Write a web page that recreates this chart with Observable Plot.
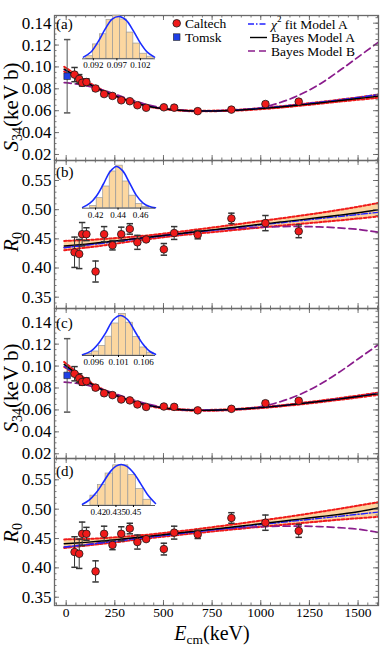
<!DOCTYPE html>
<html><head><meta charset="utf-8">
<script src="https://cdn.jsdelivr.net/npm/d3@7"></script>
<script src="https://cdn.jsdelivr.net/npm/@observablehq/plot@0.6"></script>
<style>
body{margin:0;background:#fff;}
#root{position:relative;width:390px;height:645px;overflow:hidden;font-family:"Liberation Serif","DejaVu Serif",serif;color:#000;}
#root svg{position:absolute;}
#root svg text{font-family:"Liberation Serif","DejaVu Serif",serif;}
</style></head><body><div id="root"></div>
<script>
// ---------- data ----------
const caltechE = [43, 67, 82, 104, 151, 195, 238, 283, 327, 366, 411, 502, 555, 676, 849, 1024, 1195];
const caltechS34 = [0.0930, 0.0890, 0.0855, 0.0862, 0.0803, 0.0752, 0.0735, 0.0695, 0.0687, 0.0650, 0.0627, 0.0631, 0.0628, 0.0596, 0.0610, 0.0661, 0.0683];
const caltechS34err = [0.0065, 0.0040, 0.0030, 0.0030, 0.0020, 0.0020, 0.0020, 0.0015, 0.0015, 0.0015, 0.0015, 0.0015, 0.0015, 0.0015, 0.0015, 0.0018, 0.0018];
const caltechR0 = [0.427, 0.424, 0.458, 0.458, 0.394, 0.458, 0.439, 0.458, 0.467, 0.444, 0.449, 0.432, 0.460, 0.457, 0.485, 0.477, 0.463];
const caltechR0err = [0.026, 0.025, 0.020, 0.011, 0.018, 0.013, 0.008, 0.012, 0.009, 0.012, 0.003, 0.010, 0.011, 0.007, 0.009, 0.013, 0.011];
const tomskE = [5];
const tomskS34 = [0.0915];
const tomskErr = [0.0335];

// fitted curves, S34 panels
const gridS = [-10, 50, 100, 150, 200, 300, 400, 500, 600, 700, 800, 900, 1000, 1100, 1200, 1300, 1400, 1500, 1605];
const aBayesA = [0.0980, 0.0918, 0.0865, 0.0815, 0.0772, 0.0703, 0.0650, 0.0618, 0.0602, 0.0597, 0.0600, 0.0607, 0.0619, 0.0634, 0.0652, 0.0671, 0.0691, 0.0711, 0.0733];
const aBandHi = [0.1002, 0.0932, 0.0875, 0.0823, 0.0778, 0.0707, 0.0654, 0.0621, 0.0605, 0.0600, 0.0603, 0.0611, 0.0624, 0.0640, 0.0659, 0.0679, 0.0700, 0.0722, 0.0748];
const aBandLo = [0.0958, 0.0904, 0.0855, 0.0807, 0.0766, 0.0699, 0.0646, 0.0615, 0.0599, 0.0594, 0.0597, 0.0603, 0.0614, 0.0628, 0.0645, 0.0663, 0.0682, 0.0700, 0.0718];
const aChi2A = [0.0975, 0.0916, 0.0864, 0.0815, 0.0773, 0.0704, 0.0651, 0.0619, 0.0603, 0.0598, 0.0602, 0.0610, 0.0623, 0.0639, 0.0657, 0.0677, 0.0698, 0.0721, 0.0748];
const aBayesB = [0.0856, 0.0845, 0.0830, 0.0808, 0.0782, 0.0720, 0.0664, 0.0626, 0.0603, 0.0596, 0.0598, 0.0607, 0.0627, 0.0675, 0.0745, 0.0840, 0.0960, 0.1090, 0.1227];

const cBayesA = [0.1015, 0.0935, 0.0872, 0.0818, 0.0773, 0.0702, 0.0650, 0.0617, 0.0601, 0.0596, 0.0599, 0.0608, 0.0621, 0.0637, 0.0656, 0.0677, 0.0699, 0.0722, 0.0748];
const cBandHi = [0.1038, 0.0950, 0.0882, 0.0825, 0.0778, 0.0706, 0.0654, 0.0621, 0.0605, 0.0600, 0.0603, 0.0612, 0.0626, 0.0642, 0.0662, 0.0684, 0.0707, 0.0731, 0.0758];
const cBandLo = [0.0992, 0.0920, 0.0862, 0.0811, 0.0768, 0.0698, 0.0646, 0.0613, 0.0597, 0.0592, 0.0595, 0.0604, 0.0616, 0.0632, 0.0650, 0.0670, 0.0691, 0.0713, 0.0738];
const cChi2A = [0.0998, 0.0928, 0.0868, 0.0816, 0.0772, 0.0703, 0.0651, 0.0618, 0.0602, 0.0597, 0.0600, 0.0609, 0.0622, 0.0638, 0.0657, 0.0678, 0.0700, 0.0724, 0.0752];
const cBayesB = [0.0854, 0.0843, 0.0828, 0.0806, 0.0780, 0.0718, 0.0663, 0.0625, 0.0603, 0.0596, 0.0598, 0.0607, 0.0630, 0.0675, 0.0740, 0.0830, 0.0940, 0.1065, 0.1196];

// fitted curves, R0 panels
const gridR = [-10, 100, 200, 300, 400, 500, 600, 700, 800, 900, 1000, 1100, 1200, 1300, 1400, 1500, 1605];
const bBayesA = [0.4378, 0.4410, 0.4445, 0.4482, 0.4520, 0.4558, 0.4597, 0.4635, 0.4672, 0.4711, 0.4750, 0.4788, 0.4826, 0.4865, 0.4905, 0.4948, 0.5000];
const bBandHi = [0.4465, 0.4478, 0.4500, 0.4525, 0.4553, 0.4590, 0.4630, 0.4672, 0.4715, 0.4760, 0.4805, 0.4850, 0.4895, 0.4943, 0.4995, 0.5050, 0.5115];
const bBandLo = [0.4305, 0.4348, 0.4390, 0.4440, 0.4487, 0.4527, 0.4565, 0.4598, 0.4630, 0.4662, 0.4695, 0.4725, 0.4755, 0.4785, 0.4815, 0.4848, 0.4885];
const bChi2A = [0.4350, 0.4390, 0.4430, 0.4470, 0.4510, 0.4550, 0.4590, 0.4628, 0.4665, 0.4703, 0.4740, 0.4775, 0.4810, 0.4846, 0.4882, 0.4918, 0.4955];
const bBayesB = [0.4350, 0.4395, 0.4440, 0.4483, 0.4525, 0.4563, 0.4600, 0.4632, 0.4660, 0.4683, 0.4700, 0.4710, 0.4712, 0.4705, 0.4688, 0.4662, 0.4612];

const dBayesA = [0.4410, 0.4435, 0.4463, 0.4495, 0.4530, 0.4565, 0.4602, 0.4638, 0.4675, 0.4713, 0.4752, 0.4790, 0.4830, 0.4870, 0.4910, 0.4955, 0.5020];
const dBandHi = [0.4485, 0.4492, 0.4508, 0.4533, 0.4560, 0.4595, 0.4632, 0.4672, 0.4715, 0.4758, 0.4805, 0.4852, 0.4900, 0.4952, 0.5005, 0.5060, 0.5120];
const dBandLo = [0.4340, 0.4378, 0.4415, 0.4455, 0.4495, 0.4532, 0.4568, 0.4602, 0.4636, 0.4668, 0.4700, 0.4730, 0.4760, 0.4790, 0.4820, 0.4845, 0.4870];
const dChi2A = [0.4355, 0.4393, 0.4432, 0.4471, 0.4510, 0.4549, 0.4588, 0.4626, 0.4664, 0.4701, 0.4738, 0.4773, 0.4808, 0.4843, 0.4878, 0.4913, 0.4950];
const dBayesB = [0.4352, 0.4396, 0.4440, 0.4483, 0.4525, 0.4563, 0.4600, 0.4632, 0.4660, 0.4683, 0.4700, 0.4710, 0.4712, 0.4703, 0.4686, 0.4658, 0.4605];

// inset histograms (posterior of S34(0) / R0(0))
const histA_edges = [0.0905, 0.0919, 0.0934, 0.0948, 0.0962, 0.0977, 0.0991, 0.1005, 0.1019, 0.1034, 0.1048];
const histA_counts = [0.06, 0.34, 0.58, 0.92, 1.02, 0.93, 0.62, 0.36, 0.12, 0.05];
const gaussA_x = [0.0899, 0.0915, 0.0930, 0.0945, 0.0960, 0.0975, 0.0990, 0.1005, 0.1020, 0.1035, 0.1050];
const gaussA_y = [0.04, 0.16, 0.40, 0.70, 0.94, 1.00, 0.91, 0.66, 0.37, 0.15, 0.04];
const insetA_ticks = [0.092, 0.097, 0.102];

const histB_edges = [0.4152, 0.4210, 0.4268, 0.4326, 0.4384, 0.4442, 0.4500, 0.4558, 0.4616, 0.4674];
const histB_counts = [0.05, 0.24, 0.52, 0.88, 1.02, 0.64, 0.30, 0.10, 0.03];
const gaussB_x = [0.4085, 0.4150, 0.4210, 0.4270, 0.4330, 0.4385, 0.4440, 0.4500, 0.4560, 0.4620, 0.4680, 0.4733];
const gaussB_y = [0.02, 0.12, 0.30, 0.58, 0.88, 1.00, 0.90, 0.62, 0.32, 0.13, 0.04, 0.01];
const insetB_ticks = [0.42, 0.44, 0.46];

const histC_edges = [0.0944, 0.0957, 0.0971, 0.0984, 0.0997, 0.1011, 0.1025, 0.1039, 0.1053, 0.1067, 0.1080];
const histC_counts = [0.04, 0.10, 0.24, 0.47, 0.80, 1.04, 0.82, 0.46, 0.20, 0.07];
const gaussC_x = [0.0938, 0.0955, 0.0970, 0.0985, 0.1000, 0.1014, 0.1028, 0.1043, 0.1058, 0.1073, 0.1084];
const gaussC_y = [0.02, 0.11, 0.30, 0.58, 0.90, 1.00, 0.90, 0.60, 0.30, 0.10, 0.03];
const insetC_ticks = [0.096, 0.101, 0.106];

const histD_edges = [0.4131, 0.4196, 0.4261, 0.4326, 0.4391, 0.4456, 0.4521, 0.4586, 0.4651];
const histD_counts = [0.24, 0.50, 0.78, 0.98, 0.98, 0.74, 0.40, 0.14];
const gaussD_x = [0.4063, 0.4120, 0.4180, 0.4240, 0.4300, 0.4350, 0.4394, 0.4440, 0.4500, 0.4560, 0.4620, 0.4689];
const gaussD_y = [0.03, 0.13, 0.31, 0.56, 0.82, 0.96, 1.00, 0.96, 0.80, 0.54, 0.27, 0.05];
const insetD_ticks = [0.42, 0.435, 0.45];

const xTickLabels = [0, 250, 500, 750, 1000, 1250, 1500];
const sTickLabels = [0.02, 0.04, 0.06, 0.08, 0.10, 0.12, 0.14];
const rTickLabels = [0.35, 0.40, 0.45, 0.50, 0.55];

// ---------- drawing ----------
const root = document.getElementById("root");
const FONT = '"Liberation Serif","DejaVu Serif",serif';
const ML = 54, MR = 12, W = 390, PW = W - ML - MR;
const XDOM = [-60, 1605];
const C = {red: "#f01a1a", band: "#fbcf95", blue: "#2222ff", purple: "#8a1c8c", sq: "#1f3fe6"};

const capSymbol = {draw(ctx, size) { const r = Math.sqrt(size / Math.PI); ctx.moveTo(-r, 0); ctx.lineTo(r, 0); }};

function table(grid, hi, lo, bayesA, chi, bayesB) {
  return grid.map((E, i) => ({E, hi: hi[i], lo: lo[i], a: bayesA[i], chi: chi[i], b: bayesB[i]}));
}
const ptsS = caltechE.map((E, i) => ({E, v: caltechS34[i], e: caltechS34err[i]}));
const ptsR = caltechE.map((E, i) => ({E, v: caltechR0[i], e: caltechR0err[i]}));
const tomsk = tomskE.map((E, i) => ({E, v: tomskS34[i], e: tomskErr[i]}));

function makePanel(p) {
  const ph = p.height - p.mt - p.mb;
  const cur = "catmull-rom";
  const marks = [
    Plot.areaY(p.band, {x: "E", y1: "lo", y2: "hi", curve: cur, fill: C.band, fillOpacity: 0.9, clip: true}),
    Plot.line(p.band, {x: "E", y: "hi", curve: cur, stroke: C.red, strokeWidth: 2, strokeDasharray: "2.5,2", clip: true}),
    Plot.line(p.band, {x: "E", y: "lo", curve: cur, stroke: C.red, strokeWidth: 2, strokeDasharray: "2.5,2", clip: true}),
    Plot.line(p.band, {x: "E", y: "b", curve: cur, stroke: C.purple, strokeWidth: 1.7, strokeDasharray: "7,4", clip: true}),
    Plot.line(p.band, {x: "E", y: "chi", curve: cur, stroke: C.blue, strokeWidth: 1.4, strokeDasharray: "6,2,1.5,2", clip: true}),
    Plot.line(p.band, {x: "E", y: "a", curve: cur, stroke: "#000", strokeWidth: 1.4, clip: true})
  ];
  if (p.tomsk) {
    marks.push(Plot.ruleX(p.tomsk, {x: "E", y1: d => d.v - d.e, y2: d => d.v + d.e, stroke: "#555", strokeWidth: 1}));
    marks.push(Plot.dot(p.tomsk, {x: "E", y: d => d.v - d.e, symbol: capSymbol, r: 3.2, fill: "none", stroke: "#555"}));
    marks.push(Plot.dot(p.tomsk, {x: "E", y: d => d.v + d.e, symbol: capSymbol, r: 3.2, fill: "none", stroke: "#555"}));
    marks.push(Plot.dot(p.tomsk, {x: "E", y: "v", symbol: "square", r: 3.7, fill: C.sq, stroke: "#222", strokeWidth: 0.6}));
  }
  marks.push(Plot.ruleX(p.pts, {x: "E", y1: d => d.v - d.e, y2: d => d.v + d.e, stroke: "#333", strokeWidth: 1}));
  marks.push(Plot.dot(p.pts, {x: "E", y: d => d.v - d.e, symbol: capSymbol, r: 3.2, fill: "none", stroke: "#333"}));
  marks.push(Plot.dot(p.pts, {x: "E", y: d => d.v + d.e, symbol: capSymbol, r: 3.2, fill: "none", stroke: "#333"}));
  marks.push(Plot.dot(p.pts, {x: "E", y: "v", r: 3.8, fill: C.red, stroke: "#1a1a1a", strokeWidth: 0.8}));
  // inward frame ticks
  const yMinor = d3.range(p.minor[0], p.minor[1] + 1e-9, p.minor[2]).filter(v => v > p.ydom[0] && v < p.ydom[1]);
  const xMinor = d3.range(-50, 1601, 50);
  const tk = {stroke: "#555", strokeWidth: 0.8};
  marks.push(Plot.tickY(yMinor, {y: d => d, insetRight: PW - 2.5, ...tk}));
  marks.push(Plot.tickY(yMinor, {y: d => d, insetLeft: PW - 2.5, ...tk}));
  marks.push(Plot.tickY(p.major, {y: d => d, insetRight: PW - 5, ...tk}));
  marks.push(Plot.tickY(p.major, {y: d => d, insetLeft: PW - 5, ...tk}));
  marks.push(Plot.tickX(xMinor, {x: d => d, insetTop: ph - 2.5, ...tk}));
  marks.push(Plot.tickX(xMinor, {x: d => d, insetBottom: ph - 2.5, ...tk}));
  marks.push(Plot.tickX(xTickLabels, {x: d => d, insetTop: ph - 5, ...tk}));
  marks.push(Plot.tickX(xTickLabels, {x: d => d, insetBottom: ph - 5, ...tk}));
  marks.push(Plot.frame({stroke: "#6a6a6a", strokeWidth: 1.3}));
  marks.push(Plot.axisY(p.major, {tickSize: 0, tickPadding: 3, fontSize: 17, tickFormat: d3.format(".2f"), label: null}));
  if (p.xAxis) marks.push(Plot.axisX(xTickLabels, {tickSize: 0, tickPadding: 1.5, fontSize: 13.5, tickFormat: d3.format("d"), label: null}));
  const svg = Plot.plot({
    width: W, height: p.height, marginLeft: ML, marginRight: MR, marginTop: p.mt, marginBottom: p.mb,
    x: {domain: XDOM, axis: p.xAxis ? undefined : null},
    y: {domain: p.ydom},
    style: {fontFamily: FONT, background: "transparent", overflow: "visible", color: "#000"},
    marks
  });
  svg.style.left = "0px"; svg.style.top = p.top + "px";
  root.appendChild(svg);
}

function makeInset(ins) {
  const mt = 4, mb = 13, ml = 6, mr = 6;
  const h = mt + (ins.axisY - ins.peakY) + mb;
  const bars = ins.edges.slice(0, -1).map((x1, i) => ({x1, x2: ins.edges[i + 1], h: ins.counts[i]}));
  const curve = ins.gx.map((x, i) => ({x, y: ins.gy[i]}));
  const svg = Plot.plot({
    width: 73 + ml + mr, height: h, marginTop: mt, marginBottom: mb, marginLeft: ml, marginRight: mr,
    x: {domain: ins.domain}, y: {domain: [0, 1], axis: null},
    style: {fontFamily: FONT, background: "transparent", overflow: "visible", color: "#000"},
    marks: [
      Plot.rectY(bars, {x1: "x1", x2: "x2", y: "h", fill: "#fcd7a0", stroke: "#9a9a9a", strokeWidth: 0.7}),
      Plot.line(curve, {x: "x", y: "y", curve: "catmull-rom", stroke: "#1a2cff", strokeWidth: 1.6}),
      Plot.ruleY([0], {stroke: "#333", strokeWidth: 0.8}),
      Plot.axisX(ins.ticks, {tickSize: 2, tickPadding: 1, fontSize: 9, tickFormat: d => String(d), label: null})
    ]
  });
  svg.style.left = (82 - ml) + "px"; svg.style.top = (ins.peakY - mt) + "px";
  root.appendChild(svg);
}

makePanel({top: 0, height: 161, mt: 15, mb: 1, ydom: [0.0145, 0.1470], major: sTickLabels, minor: [0.015, 0.145, 0.005],
  band: table(gridS, aBandHi, aBandLo, aBayesA, aChi2A, aBayesB), pts: ptsS, tomsk});
makePanel({top: 159, height: 150, mt: 1, mb: 1, ydom: [0.3306, 0.5843], major: rTickLabels, minor: [0.34, 0.58, 0.01],
  band: table(gridR, bBandHi, bBandLo, bBayesA, bChi2A, bBayesB), pts: ptsR});
makePanel({top: 307, height: 152, mt: 1, mb: 1, ydom: [0.0157, 0.1525], major: sTickLabels, minor: [0.015, 0.15, 0.005],
  band: table(gridS, cBandHi, cBandLo, cBayesA, cChi2A, cBayesB), pts: ptsS, tomsk});
makePanel({top: 457, height: 188, mt: 1, mb: 40, ydom: [0.3359, 0.5863], major: rTickLabels, minor: [0.34, 0.58, 0.01],
  band: table(gridR, dBandHi, dBandLo, dBayesA, dChi2A, dBayesB), pts: ptsR, xAxis: true});

makeInset({peakY: 16, axisY: 58.3, domain: [0.0897, 0.1052], edges: histA_edges, counts: histA_counts, gx: gaussA_x, gy: gaussA_y, ticks: insetA_ticks});
makeInset({peakY: 166, axisY: 207.7, domain: [0.4084, 0.4733], edges: histB_edges, counts: histB_counts, gx: gaussB_x, gy: gaussB_y, ticks: insetB_ticks});
makeInset({peakY: 315, axisY: 355, domain: [0.0938, 0.1084], edges: histC_edges, counts: histC_counts, gx: gaussC_x, gy: gaussC_y, ticks: insetC_ticks});
makeInset({peakY: 464, axisY: 505, domain: [0.4063, 0.4689], edges: histD_edges, counts: histD_counts, gx: gaussD_x, gy: gaussD_y, ticks: insetD_ticks});

// ---------- text & legend overlay ----------
const ov = d3.select(root).append("svg").attr("width", 390).attr("height", 645).style("left", "0px").style("top", "0px")
  .attr("font-family", FONT).style("overflow", "visible");
function plain(s, x, y, size) {
  return ov.append("text").attr("x", x).attr("y", y).attr("font-size", size).attr("dominant-baseline", "central").text(s);
}
plain("(a)", 56, 23.5, 15);
plain("(b)", 56, 172, 15);
plain("(c)", 56, 323, 15);
plain("(d)", 56, 471, 15);

function sTitle(cy) {
  const t = ov.append("text").attr("transform", `translate(18,${cy}) rotate(-90)`).attr("text-anchor", "middle").attr("font-size", 21);
  t.append("tspan").attr("font-style", "italic").text("S");
  t.append("tspan").attr("font-size", 14).attr("dy", 4).text("34");
  t.append("tspan").attr("dy", -4).text("(keV b)");
}
function rTitle(cy) {
  const t = ov.append("text").attr("transform", `translate(18,${cy}) rotate(-90)`).attr("text-anchor", "middle").attr("font-size", 21);
  t.append("tspan").attr("font-style", "italic").text("R");
  t.append("tspan").attr("font-size", 14).attr("dy", 4).text("0");
}
sTitle(107); rTitle(242); sTitle(388); rTitle(533);
{
  const t = ov.append("text").attr("x", 212).attr("y", 640).attr("text-anchor", "middle").attr("font-size", 20);
  t.append("tspan").attr("font-style", "italic").text("E");
  t.append("tspan").attr("font-size", 13.5).attr("dy", 3.5).text("cm");
  t.append("tspan").attr("dy", -3.5).text("(keV)");
}

// legend
ov.append("circle").attr("cx", 176.7).attr("cy", 23.3).attr("r", 3.8).attr("fill", C.red).attr("stroke", "#1a1a1a").attr("stroke-width", 0.8);
ov.append("rect").attr("x", 173.4).attr("y", 33.8).attr("width", 6.6).attr("height", 6.6).attr("fill", C.sq).attr("stroke", "#222").attr("stroke-width", 0.6);
ov.append("line").attr("x1", 248).attr("x2", 267).attr("y1", 24).attr("y2", 24).attr("stroke", C.blue).attr("stroke-width", 1.4).attr("stroke-dasharray", "6,2,1.5,2");
ov.append("line").attr("x1", 250).attr("x2", 267).attr("y1", 37.5).attr("y2", 37.5).attr("stroke", "#000").attr("stroke-width", 1.4);
ov.append("line").attr("x1", 248).attr("x2", 267).attr("y1", 51).attr("y2", 51).attr("stroke", C.purple).attr("stroke-width", 1.7).attr("stroke-dasharray", "7,4");
plain("Caltech", 185, 23.5, 13.5);
plain("Tomsk", 185, 37.5, 13.5);
{
  const t = ov.append("text").attr("x", 271).attr("y", 23.5).attr("font-size", 13.5).attr("dominant-baseline", "central");
  t.append("tspan").attr("font-style", "italic").text("χ");
  t.append("tspan").attr("font-size", 9).attr("dy", -5).text("2");
  t.append("tspan").attr("dy", 5).text(" fit Model A");
}
plain("Bayes Model A", 271, 37.5, 13.5);
plain("Bayes Model B", 271, 51, 13.5);
</script></body></html>
